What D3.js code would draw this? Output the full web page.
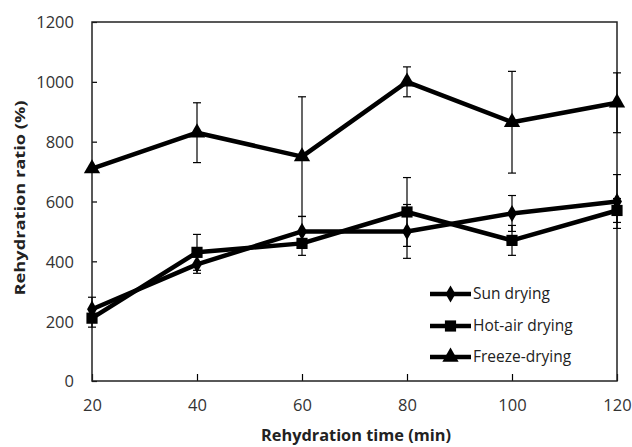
<!DOCTYPE html>
<html lang="en">
<head>
    <meta charset="UTF-8">
    <title>Rehydration ratio</title>
    <style>
        body { margin: 0; background: #fff; overflow: hidden; }
        svg { display: block; }
        text { font-family: "Open Sans", "Liberation Sans", sans-serif; }
    </style>
</head>
<body>
    <div class="box"></div>
    <script src="https://d3js.org/d3.v7.min.js"></script>
    <script>
        // data
        const times = [20, 40, 60, 80, 100, 120];
        const sunMean = [240, 390, 500, 500, 560, 600];
        const sunErr = [40, 30, 50, 90, 60, 90];
        const hotMean = [210, 430, 460, 565, 470, 570];
        const hotErr = [30, 60, 40, 115, 50, 40];
        const freezeMean = [710, 830, 750, 1000, 865, 930];
        const freezeErr = [0, 100, 200, 50, 170, 100];
        const yTicks = [0, 200, 400, 600, 800, 1000, 1200];

        const series = [
            { name: 'Sun drying', mean: sunMean, err: sunErr, shape: d3.symbolDiamond, size: 85 },
            { name: 'Hot-air drying', mean: hotMean, err: hotErr, shape: d3.symbolSquare, size: 125 },
            { name: 'Freeze-drying', mean: freezeMean, err: freezeErr, shape: d3.symbolTriangle, size: 115 }
        ];

        const width = 632, height = 447;
        const margin = { top: 22, right: 15, bottom: 66, left: 92 };
        const innerWidth = width - margin.left - margin.right;
        const innerHeight = height - margin.top - margin.bottom;

        const svg = d3.select('.box').append('svg')
            .attr('width', width)
            .attr('height', height);

        const g = svg.append('g')
            .attr('transform', `translate(${margin.left}, ${margin.top})`);

        const x = d3.scaleLinear().domain([20, 120]).range([0, innerWidth]);
        const y = d3.scaleLinear().domain([0, 1200]).range([innerHeight, 0]);

        // axes (ticks point inward)
        const xAxis = g.append('g')
            .attr('transform', `translate(0, ${innerHeight})`)
            .call(d3.axisBottom(x).tickValues(times).tickFormat(d3.format('d'))
                .tickSizeInner(-7).tickSizeOuter(0).tickPadding(22));
        const yAxis = g.append('g')
            .call(d3.axisLeft(y).tickValues(yTicks).tickFormat(d3.format('d'))
                .tickSizeInner(-5).tickSizeOuter(0).tickPadding(18));

        [xAxis, yAxis].forEach(a => {
            a.select('.domain').remove();
            a.selectAll('line').attr('stroke', '#000').attr('stroke-width', 1.2);
            a.selectAll('text').attr('font-size', 16.5).attr('fill', '#333')
                .attr('font-family', '"Open Sans", sans-serif');
        });
        yAxis.selectAll('text').attr('dy', '0.36em');
        xAxis.selectAll('text').attr('dy', '0.5em');

        // frame
        g.append('rect')
            .attr('width', innerWidth)
            .attr('height', innerHeight)
            .attr('fill', 'none')
            .attr('stroke', '#222')
            .attr('stroke-width', 1.5);

        // error bars
        const cap = 4;
        series.forEach(s => {
            const eb = g.append('g').attr('stroke', '#000').attr('stroke-width', 1.2);
            times.forEach((t, i) => {
                if (!s.err[i]) return;
                const cx = x(t);
                const top = y(s.mean[i] + s.err[i]);
                const bot = y(s.mean[i] - s.err[i]);
                eb.append('line').attr('x1', cx).attr('x2', cx).attr('y1', top).attr('y2', bot);
                eb.append('line').attr('x1', cx - cap).attr('x2', cx + cap).attr('y1', top).attr('y2', top);
                eb.append('line').attr('x1', cx - cap).attr('x2', cx + cap).attr('y1', bot).attr('y2', bot);
            });
        });

        // lines and markers
        const line = d3.line().x((d, i) => x(times[i])).y(d => y(d));
        series.forEach(s => {
            g.append('path')
                .datum(s.mean)
                .attr('d', line)
                .attr('fill', 'none')
                .attr('stroke', '#000')
                .attr('stroke-width', 4.5)
                .attr('stroke-linejoin', 'round');
            g.selectAll(null)
                .data(s.mean)
                .join('path')
                .attr('transform', (d, i) => `translate(${x(times[i])}, ${y(d)})`)
                .attr('d', d3.symbol().type(s.shape).size(s.size))
                .attr('fill', '#000');
        });

        // legend
        const legend = g.append('g')
            .attr('transform', `translate(${x(84) + 2}, 0)`);
        const rowY = [294, 326, 357].map(v => v - margin.top);
        series.forEach((s, i) => {
            const row = legend.append('g').attr('transform', `translate(0, ${rowY[i]})`);
            row.append('line')
                .attr('x1', 0).attr('x2', 41)
                .attr('stroke', '#000').attr('stroke-width', 4.5);
            row.append('path')
                .attr('transform', 'translate(20.5, 0)')
                .attr('d', d3.symbol().type(s.shape).size(s.size))
                .attr('fill', '#000');
            row.append('text')
                .attr('x', 43)
                .attr('dy', '0.35em')
                .attr('font-size', 15.5)
                .attr('fill', '#222')
                .text(s.name);
        });

        // axis titles
        svg.append('text')
            .attr('x', 356)
            .attr('y', 441)
            .attr('text-anchor', 'middle')
            .attr('font-size', 16)
            .attr('font-weight', 'bold')
            .attr('fill', '#222')
            .attr('textLength', 190)
            .attr('lengthAdjust', 'spacingAndGlyphs')
            .text('Rehydration time (min)');

        svg.append('text')
            .attr('transform', 'translate(25, 198) rotate(-90)')
            .attr('text-anchor', 'middle')
            .attr('font-size', 15)
            .attr('font-weight', 'bold')
            .attr('fill', '#222')
            .attr('textLength', 195)
            .attr('lengthAdjust', 'spacingAndGlyphs')
            .text('Rehydration ratio (%)');
    </script>
</body>
</html>
